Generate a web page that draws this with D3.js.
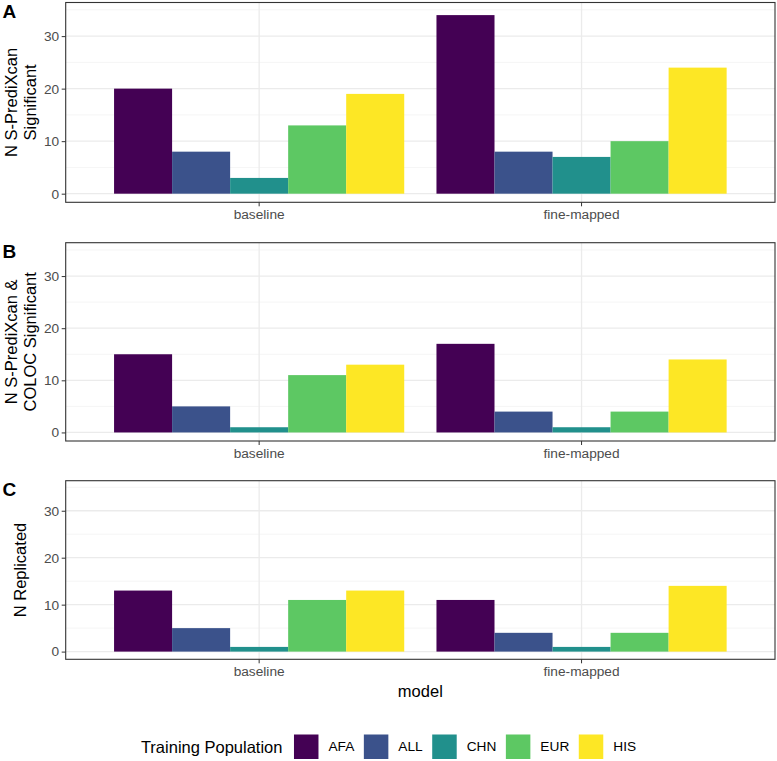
<!DOCTYPE html>
<html>
<head>
<meta charset="utf-8">
<script src="https://cdn.jsdelivr.net/npm/d3@7"></script>
<style>
  html, body { margin: 0; padding: 0; background: #fff; }
  svg { display: block; font-family: "Liberation Sans", Arial, sans-serif; }
</style>
</head>
<body>
<svg id="chart" width="777" height="761"></svg>
<script>
const models = ["baseline", "fine-mapped"];
const populations = ["AFA", "ALL", "CHN", "EUR", "HIS"];
const popColors = ["#440154", "#3B528B", "#21908C", "#5DC863", "#FDE725"];
const yTicks = [0, 10, 20, 30];
const yMinorTicks = [5, 15, 25, 35];

// values per population: [baseline, fine-mapped]
const sigPrediXcan = { AFA: [20, 34], ALL: [8, 8], CHN: [3, 7], EUR: [13, 10], HIS: [19, 24] };
const sigColoc     = { AFA: [15, 17], ALL: [5, 4], CHN: [1, 1], EUR: [11, 4], HIS: [13, 14] };
const replicated   = { AFA: [13, 11], ALL: [5, 4], CHN: [1, 1], EUR: [11, 4], HIS: [13, 14] };

const panelLabels = ["A", "B", "C"];
const panelTitles = [["N S-PrediXcan", "Significant"], ["N S-PrediXcan &", "COLOC Significant"], ["N Replicated"]];
const panelData = [sigPrediXcan, sigColoc, replicated];

const svg = d3.select("#chart");
const L = 65.7, R = 775;
const panels = [
  { top: 2.5, bottom: 202.3, titleX: [16.5, 35.5] },
  { top: 242.7, bottom: 441, titleX: [16.5, 35.5] },
  { top: 480.7, bottom: 659.3, titleX: [26] }
];
const yDomain = [-1.64, 36.4];
const tickFont = "13.7px";

const color = d3.scaleOrdinal().domain(populations).range(popColors);
const x0 = d3.scaleBand().domain(models).range([L, R]).paddingInner(0.1).paddingOuter(0.15);
const x1 = d3.scaleBand().domain(populations).range([0, x0.bandwidth()]);

panels.forEach((p, i) => {
  const g = svg.append("g");
  const y = d3.scaleLinear().domain(yDomain).range([p.bottom, p.top]);
  const data = panelData[i];

  // minor grid
  g.selectAll(".minor").data(yMinorTicks).enter().append("line")
    .attr("x1", L).attr("x2", R)
    .attr("y1", d => y(d)).attr("y2", d => y(d))
    .attr("stroke", "#F2F2F2").attr("stroke-width", 0.8);
  // major grid horizontal
  g.selectAll(".major").data(yTicks).enter().append("line")
    .attr("x1", L).attr("x2", R)
    .attr("y1", d => y(d)).attr("y2", d => y(d))
    .attr("stroke", "#EBEBEB").attr("stroke-width", 1.3);
  // major grid vertical
  g.selectAll(".vmajor").data(models).enter().append("line")
    .attr("x1", d => x0(d) + x0.bandwidth() / 2).attr("x2", d => x0(d) + x0.bandwidth() / 2)
    .attr("y1", p.top).attr("y2", p.bottom)
    .attr("stroke", "#EBEBEB").attr("stroke-width", 1.3);

  // bars
  models.forEach((m, mi) => {
    g.selectAll(".bar" + mi).data(populations).enter().append("rect")
      .attr("x", d => x0(m) + x1(d))
      .attr("width", x1.bandwidth())
      .attr("y", d => y(data[d][mi]))
      .attr("height", d => y(0) - y(data[d][mi]))
      .attr("fill", d => color(d));
  });

  // y axis
  const yAxis = d3.axisLeft(y).tickValues(yTicks).tickSize(4).tickPadding(2.5);
  const ya = g.append("g").attr("transform", `translate(${L},0)`).call(yAxis);
  ya.select(".domain").remove();
  ya.selectAll(".tick line").attr("stroke", "#333333").attr("stroke-width", 1);
  ya.selectAll(".tick text").attr("fill", "#4D4D4D").style("font-size", tickFont)
    .style("font-family", '"Liberation Sans", Arial, sans-serif');

  // x axis
  const xAxis = d3.axisBottom(x0).tickSize(4).tickPadding(3);
  const xa = g.append("g").attr("transform", `translate(0,${p.bottom})`).call(xAxis);
  xa.select(".domain").remove();
  xa.selectAll(".tick line").attr("stroke", "#333333").attr("stroke-width", 1);
  xa.selectAll(".tick text").attr("fill", "#4D4D4D").style("font-size", tickFont)
    .style("font-family", '"Liberation Sans", Arial, sans-serif');

  // panel border
  g.append("rect").attr("x", L).attr("y", p.top).attr("width", R - L).attr("height", p.bottom - p.top)
    .attr("fill", "none").attr("stroke", "#333333").attr("stroke-width", 1.1);

  // y title
  const cy = (p.top + p.bottom) / 2;
  panelTitles[i].forEach((t, li) => {
    g.append("text").attr("transform", `translate(${p.titleX[li]},${cy}) rotate(-90)`)
      .attr("text-anchor", "middle").style("font-size", "16.5px").attr("fill", "#000").text(t);
  });

  // panel letter
  g.append("text").attr("x", 2.5).attr("y", p.top + 15.5)
    .style("font-size", "19px").style("font-weight", "bold").attr("fill", "#000").text(panelLabels[i]);
});

// x axis title
svg.append("text").attr("x", (L + R) / 2).attr("y", 697).attr("text-anchor", "middle")
  .style("font-size", "16.5px").attr("fill", "#000").text("model");

// legend
const leg = svg.append("g");
const title = leg.append("text").attr("x", 0).attr("y", 752.5).style("font-size", "16.5px")
  .attr("fill", "#000").text("Training Population");
let cx = title.node().getComputedTextLength() + 11.5;
const keySize = 24.5;
populations.forEach(pop => {
  leg.append("rect").attr("x", cx).attr("y", 734.5).attr("width", keySize).attr("height", keySize)
    .attr("fill", color(pop));
  cx += keySize + 10;
  const t = leg.append("text").attr("x", cx).attr("y", 751.3).style("font-size", tickFont)
    .attr("fill", "#000").text(pop);
  cx += t.node().getComputedTextLength() + 9.5;
});
const totalW = cx - 9.5;
leg.attr("transform", `translate(${388.5 - totalW / 2},0)`);
</script>
</body>
</html>
